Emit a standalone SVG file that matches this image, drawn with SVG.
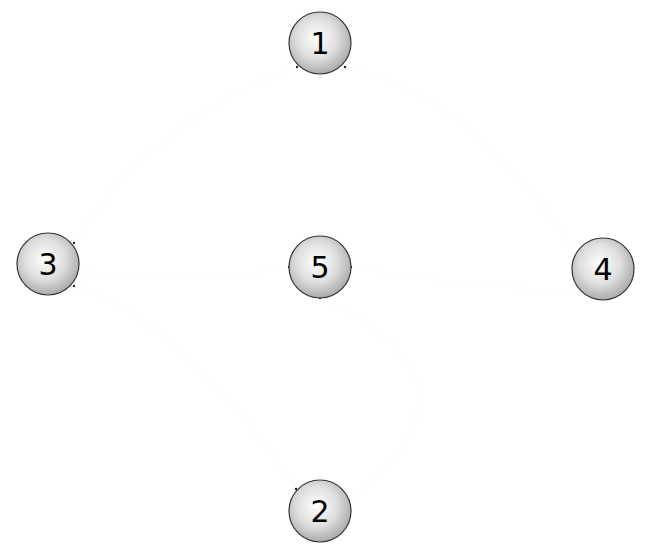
<svg xmlns="http://www.w3.org/2000/svg" width="650" height="550" viewBox="0 0 650 550">
<defs>
<radialGradient id="g" cx="0.45" cy="0.42" r="0.6">
<stop offset="0" stop-color="#ffffff"/>
<stop offset="0.55" stop-color="#dedede"/>
<stop offset="1" stop-color="#a8a8a8"/>
</radialGradient>
</defs>
<style>
.n{fill:url(#g);stroke:#333;stroke-width:1.2}
.t{font-family:"DejaVu Sans",Verdana,sans-serif;font-size:30px;fill:#000;text-anchor:middle}
.e{fill:none;stroke:#fdfdfd;stroke-width:1}
.d{fill:#222}
</style>
<rect width="650" height="550" fill="#fff"/>
<g id="connectors">
<path class="e" d="M345,67 Q480,100 577,256"/>
<path class="e" d="M297,67 Q150,120 74,243"/>
<path class="e" d="M351,267 Q480,290 580,290"/>
<path class="e" d="M320,297 Q500,380 351,500"/>
<path class="e" d="M74,286 Q180,320 296,487"/>
<path class="e" d="M289,267 Q170,290 79,270"/>
<circle class="d" cx="297" cy="67" r="1.2"/>
<circle class="d" cx="345" cy="67" r="1.2"/>
<circle class="d" cx="289" cy="267" r="1.2"/>
<circle class="d" cx="351" cy="267" r="1.2"/>
<circle class="d" cx="320" cy="298" r="1.2"/>
<circle class="d" cx="74" cy="243" r="1.2"/>
<circle class="d" cx="74" cy="286" r="1.2"/>
<circle class="d" cx="578" cy="256" r="1.2"/>
<circle class="d" cx="296" cy="489" r="1.2"/>
</g>
<g id="node1"><circle class="n" cx="320" cy="43" r="31"/><text class="t" x="320" y="54">1</text></g>
<g id="node5"><circle class="n" cx="320" cy="267" r="31"/><text class="t" x="320" y="278">5</text></g>
<g id="node3"><circle class="n" cx="48" cy="264" r="31"/><text class="t" x="48" y="275">3</text></g>
<g id="node4"><circle class="n" cx="603" cy="269" r="31"/><text class="t" x="603" y="280">4</text></g>
<g id="node2"><circle class="n" cx="320" cy="511" r="31"/><text class="t" x="320" y="522">2</text></g>
</svg>
